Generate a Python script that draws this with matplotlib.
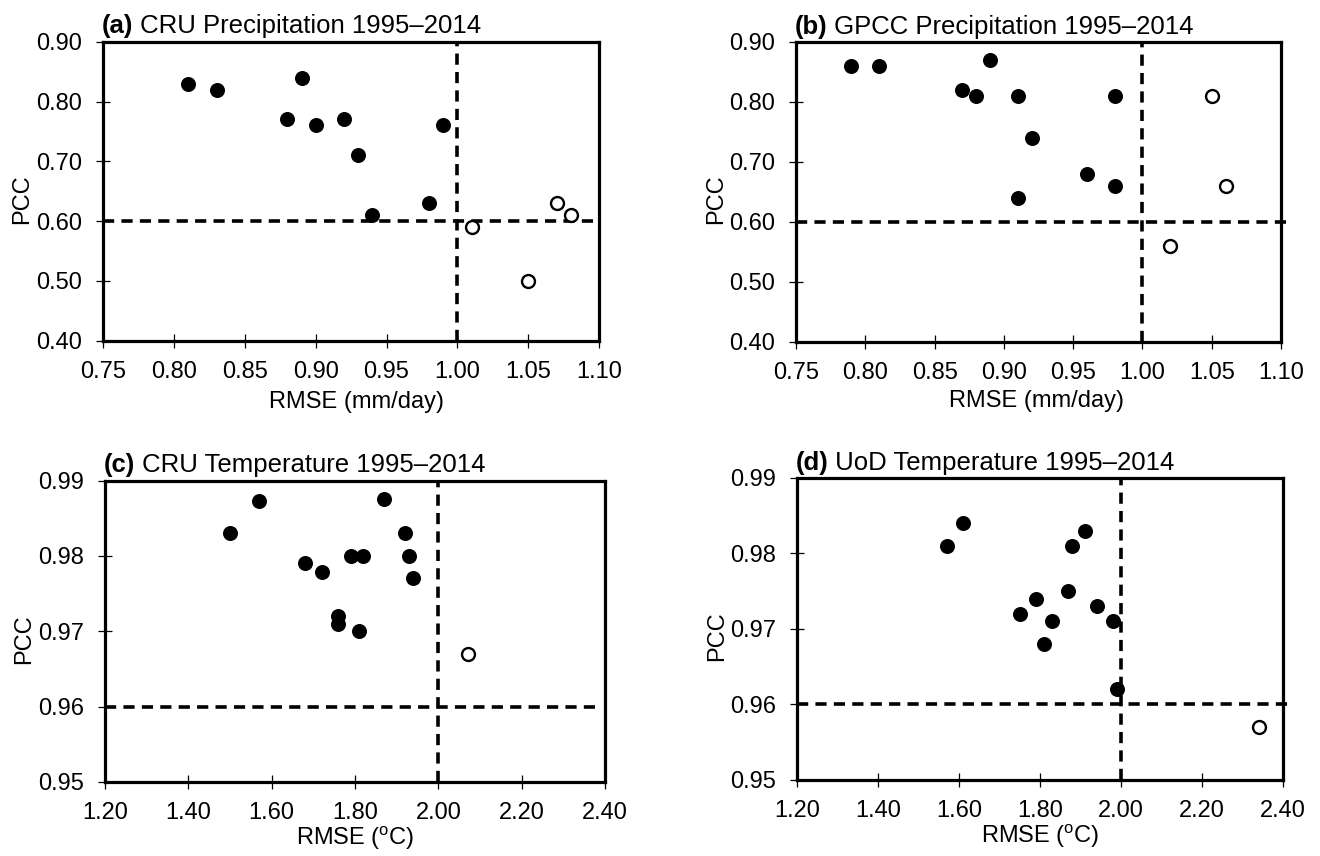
import matplotlib
matplotlib.use("Agg")
import matplotlib.pyplot as plt

plt.rcParams['font.family'] = ['Liberation Sans', 'DejaVu Sans']
plt.rcParams['mathtext.fontset'] = 'custom'
plt.rcParams['mathtext.rm'] = 'Liberation Sans'
plt.rcParams['mathtext.it'] = 'Liberation Sans:italic'
plt.rcParams['mathtext.bf'] = 'Liberation Sans:bold'

# ---------------- data ----------------
# (a) CRU precipitation
a_fill_x = [0.81, 0.83, 0.89, 0.88, 0.90, 0.92, 0.99, 0.93, 0.94, 0.98]
a_fill_y = [0.83, 0.82, 0.84, 0.77, 0.76, 0.77, 0.76, 0.71, 0.61, 0.63]
a_open_x = [1.01, 1.05, 1.07, 1.08]
a_open_y = [0.59, 0.50, 0.63, 0.61]

# (b) GPCC precipitation
b_fill_x = [0.79, 0.81, 0.89, 0.87, 0.88, 0.91, 0.98, 0.92, 0.96, 0.98, 0.91]
b_fill_y = [0.86, 0.86, 0.87, 0.82, 0.81, 0.81, 0.81, 0.74, 0.68, 0.66, 0.64]
b_open_x = [1.05, 1.06, 1.02]
b_open_y = [0.81, 0.66, 0.56]

# (c) CRU temperature
c_fill_x = [1.50, 1.57, 1.87, 1.92, 1.93, 1.94, 1.68, 1.72, 1.79, 1.82, 1.76, 1.76, 1.81]
c_fill_y = [0.983, 0.9873, 0.9875, 0.983, 0.980, 0.977, 0.979, 0.9778, 0.980, 0.980, 0.972, 0.971, 0.970]
c_open_x = [2.07]
c_open_y = [0.967]

# (d) UoD temperature
d_fill_x = [1.57, 1.61, 1.75, 1.79, 1.81, 1.83, 1.87, 1.88, 1.91, 1.94, 1.98, 1.99]
d_fill_y = [0.981, 0.984, 0.972, 0.974, 0.968, 0.971, 0.975, 0.981, 0.983, 0.973, 0.971, 0.962]
d_open_x = [2.34]
d_open_y = [0.957]

panel_tags = ["(a)", "(b)", "(c)", "(d)"]
panel_titles = [" CRU Precipitation 1995\u20132014", " GPCC Precipitation 1995\u20132014",
                " CRU Temperature 1995\u20132014", " UoD Temperature 1995\u20132014"]
precip_xticks = [0.75, 0.80, 0.85, 0.90, 0.95, 1.00, 1.05, 1.10]
precip_yticks = [0.40, 0.50, 0.60, 0.70, 0.80, 0.90]
temp_xticks = [1.20, 1.40, 1.60, 1.80, 2.00, 2.20, 2.40]
temp_yticks = [0.95, 0.96, 0.97, 0.98, 0.99]
precip_thresh = (1.00, 0.60)
temp_thresh = (2.00, 0.96)
xlabel_precip = "RMSE (mm/day)"
xlabel_temp = r"RMSE ($^{\mathrm{o}}$C)"
ylabel = "PCC"

# ---------------- figure ----------------
W, H = 1320, 856
fig = plt.figure(figsize=(W / 100, H / 100), dpi=100)

def frac(l, r, t, b):
    return [l / W, 1 - b / H, (r - l) / W, (b - t) / H]

rects = [frac(103.3, 599, 41.7, 340.7), frac(796, 1281, 42, 341.5),
         frac(105, 605, 480.5, 782), frac(797, 1283, 478, 779.5)]

datasets = [
    (a_fill_x, a_fill_y, a_open_x, a_open_y, precip_xticks, precip_yticks, precip_thresh, xlabel_precip, 0.0),
    (b_fill_x, b_fill_y, b_open_x, b_open_y, precip_xticks, precip_yticks, precip_thresh, xlabel_precip, 0.007),
    (c_fill_x, c_fill_y, c_open_x, c_open_y, temp_xticks, temp_yticks, temp_thresh, xlabel_temp, -0.025),
    (d_fill_x, d_fill_y, d_open_x, d_open_y, temp_xticks, temp_yticks, temp_thresh, xlabel_temp, 0.025),
]
xlabel_pos = [(0.51, -0.225), (0.495, -0.218), (0.50, -0.209), (0.50, -0.209)]
ylabel_pos = [(-0.164, 0.474), (-0.164, 0.474), (-0.162, 0.474), (-0.164, 0.474)]

FS = 17
for i, (fx, fy, ox, oy, xt, yt, th, xl, hext) in enumerate(datasets):
    ax = fig.add_axes(rects[i])
    ax.set_xlim(xt[0], xt[-1])
    ax.set_ylim(yt[0], yt[-1])
    # threshold lines
    ax.plot([xt[0], xt[-1] + hext], [th[1], th[1]], color='black', lw=2.6,
            dashes=(3.1, 2.0), clip_on=False, zorder=2)
    ax.plot([th[0], th[0]], [yt[0], yt[-1]], color='black', lw=2.6,
            dashes=(3.1, 2.0), clip_on=False, zorder=2)
    ax.plot(fx, fy, 'o', color='black', ms=10.8, mew=0, zorder=3, clip_on=False)
    ax.plot(ox, oy, 'o', mfc='white', mec='black', ms=9.3, mew=1.7, zorder=3, clip_on=False)
    ax.set_xticks(xt)
    ax.set_yticks(yt)
    ax.set_xticklabels([f"{v:.2f}" for v in xt], fontsize=FS)
    ax.set_yticklabels([f"{v:.2f}" for v in yt], fontsize=FS)
    ax.tick_params(direction='inout', length=9.5, width=0.9)
    ax.tick_params(axis='x', pad=9.8)
    ax.tick_params(axis='y', pad=10.5)
    for s in ax.spines.values():
        s.set_linewidth(2.3)
    ax.set_xlabel(xl, fontsize=FS, va='baseline')
    ax.xaxis.set_label_coords(*xlabel_pos[i])
    ax.set_ylabel(ylabel, fontsize=FS, va='center')
    ax.yaxis.set_label_coords(*ylabel_pos[i])
    t1 = ax.annotate(panel_tags[i], xy=(0, 1), xycoords='axes fraction',
                     xytext=(-1, 6), textcoords='offset points',
                     fontsize=18.5, fontweight='bold', ha='left', va='baseline')
    ax.annotate(panel_titles[i], xy=(1, 0), xycoords=t1, fontsize=18.5,
                ha='left', va='bottom')

fig.savefig("out.png", dpi=100)
